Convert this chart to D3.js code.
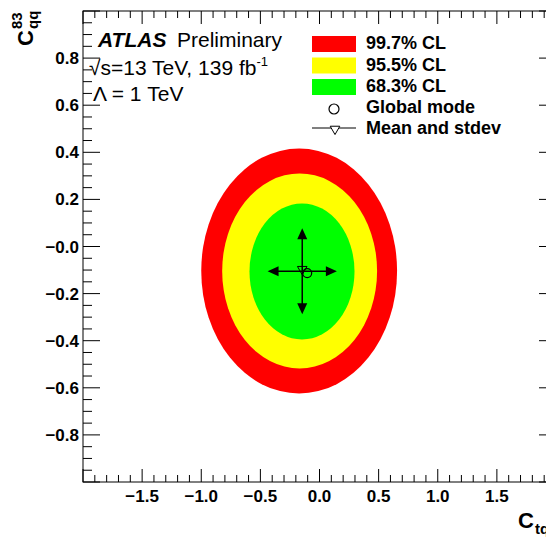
<!DOCTYPE html>
<meta charset="utf-8">
<style type="text/css">
    body { margin: 0; background: #fff; }
    text { font-family: "Liberation Sans", Arial, Helvetica, sans-serif; }
    .tick-label { font-size: 17px; font-weight: bold; }
    .legend-label { font-size: 18px; font-weight: bold; }
    .frame { fill: none; stroke: #000; stroke-width: 1; }
    .tick { stroke: #000; stroke-width: 1; }
</style>
<body>
</body>
<script src="https://cdn.jsdelivr.net/npm/d3@7"></script>
<script>

    // confidence level contours (ellipse centre + half-widths, in Wilson-coefficient units)
    var clLabels = ["99.7% CL", "95.5% CL", "68.3% CL"];
    var contourCx = [-0.172, -0.168, -0.148];
    var contourCy = [-0.104, -0.104, -0.106];
    var contourRx = [0.828, 0.655, 0.444];
    var contourRy = [0.520, 0.414, 0.289];

    // global mode and mean +- stdev
    var globalMode = [-0.104, -0.113];
    var meanValue = [-0.146, -0.105];
    var stdevValue = [0.293, 0.183];

    // tick labels
    var xTickValues = [-1.5, -1.0, -0.5, 0.0, 0.5, 1.0, 1.5];
    var xTickLabels = ["\u22121.5", "\u22121.0", "\u22120.5", "0.0", "0.5", "1.0", "1.5"];
    var yTickValues = [0.8, 0.6, 0.4, 0.2, 0.0, -0.2, -0.4, -0.6, -0.8];
    var yTickLabels = ["0.8", "0.6", "0.4", "0.2", "\u22120.0", "\u22120.2", "\u22120.4", "\u22120.6", "\u22120.8"];

    var clColors = ["#ff0000", "#ffff00", "#00ff00"];

    var W = 546, H = 539;
    var frame = {left: 83, right: 556, top: 11, bottom: 482};

    var x = d3.scaleLinear().domain([-2, 2]).range([frame.left, frame.right]);
    var y = d3.scaleLinear().domain([-1, 1]).range([frame.bottom, frame.top]);

    var svg = d3.select("body").append("svg")
        .attr("width", W)
        .attr("height", H);

    // contours, outermost first
    svg.selectAll(".contour")
        .data(clLabels)
        .enter().append("ellipse")
        .attr("class", "contour")
        .attr("cx", function(d, i) { return x(contourCx[i]); })
        .attr("cy", function(d, i) { return y(contourCy[i]); })
        .attr("rx", function(d, i) { return x(contourCx[i] + contourRx[i]) - x(contourCx[i]); })
        .attr("ry", function(d, i) { return y(contourCy[i]) - y(contourCy[i] + contourRy[i]); })
        .attr("fill", function(d, i) { return clColors[i]; });

    // frame
    svg.append("rect")
        .attr("class", "frame")
        .attr("x", frame.left)
        .attr("y", frame.top)
        .attr("width", frame.right - frame.left)
        .attr("height", frame.bottom - frame.top);

    // ticks on all four sides
    var xMinor = d3.range(-20, 21).map(function(i) { return i / 10; });
    var yMinor = d3.range(-20, 21).map(function(i) { return i / 20; });
    function isMajorX(v) { return Math.abs(v * 2 - Math.round(v * 2)) < 1e-6; }
    function isMajorY(v) { return Math.abs(v * 5 - Math.round(v * 5)) < 1e-6; }

    var ticks = svg.append("g");
    xMinor.forEach(function(v) {
        var len = isMajorX(v) ? 13 : 7;
        ticks.append("line").attr("class", "tick")
            .attr("x1", x(v)).attr("x2", x(v))
            .attr("y1", frame.bottom).attr("y2", frame.bottom - len);
        ticks.append("line").attr("class", "tick")
            .attr("x1", x(v)).attr("x2", x(v))
            .attr("y1", frame.top).attr("y2", frame.top + len);
    });
    yMinor.forEach(function(v) {
        var len = isMajorY(v) ? 17 : 9;
        ticks.append("line").attr("class", "tick")
            .attr("y1", y(v)).attr("y2", y(v))
            .attr("x1", frame.left).attr("x2", frame.left + len);
        ticks.append("line").attr("class", "tick")
            .attr("y1", y(v)).attr("y2", y(v))
            .attr("x1", frame.right).attr("x2", frame.right - len);
    });

    // tick labels
    svg.selectAll(".xlab")
        .data(xTickValues)
        .enter().append("text")
        .attr("class", "tick-label")
        .attr("x", function(d) { return x(d); })
        .attr("y", 502)
        .attr("text-anchor", "middle")
        .text(function(d, i) { return xTickLabels[i]; });

    svg.selectAll(".ylab")
        .data(yTickValues)
        .enter().append("text")
        .attr("class", "tick-label")
        .attr("x", frame.left - 4)
        .attr("y", function(d) { return y(d) + 6; })
        .attr("text-anchor", "end")
        .text(function(d, i) { return yTickLabels[i]; });

    // axis titles (x title runs off the right edge, as in the original)
    var xt = svg.append("g").attr("transform", "translate(518,528)");
    xt.append("text").attr("font-size", 22).attr("font-weight", "bold").text("C");
    xt.append("text").attr("x", 17).attr("y", 6).attr("font-size", 15).attr("font-weight", "bold").text("tq");

    var yt = svg.append("g").attr("transform", "translate(33,46) rotate(-90)");
    yt.append("text").attr("font-size", 22).attr("font-weight", "bold").text("C");
    yt.append("text").attr("x", 17).attr("y", 5).attr("font-size", 15).attr("font-weight", "bold").text("qq");
    yt.append("text").attr("x", 17).attr("y", -11).attr("font-size", 15).attr("font-weight", "bold").text("83");

    // ATLAS labels
    svg.append("text").attr("x", 98).attr("y", 47)
        .attr("font-size", 21).attr("font-weight", "bold").attr("font-style", "italic")
        .text("ATLAS");
    svg.append("text").attr("x", 177).attr("y", 47)
        .attr("font-size", 21).text("Preliminary");
    var l2 = svg.append("text").attr("x", 89).attr("y", 75).attr("font-size", 21);
    l2.append("tspan").text("\u221As=13 TeV, 139 fb");
    l2.append("tspan").attr("dy", -9).attr("font-size", 13).text("-1");
    svg.append("text").attr("x", 93).attr("y", 101)
        .attr("font-size", 21).text("\u039B = 1 TeV");

    // mean and stdev cross with arrows
    var cross = svg.append("g");
    var mx = x(meanValue[0]), my = y(meanValue[1]);
    var xl = x(meanValue[0] - stdevValue[0]), xr = x(meanValue[0] + stdevValue[0]);
    var yu = y(meanValue[1] + stdevValue[1]), yd = y(meanValue[1] - stdevValue[1]);
    cross.append("line").attr("x1", xl + 4).attr("x2", xr - 4).attr("y1", my).attr("y2", my)
        .attr("stroke", "#000").attr("stroke-width", 1.5);
    cross.append("line").attr("y1", yu + 4).attr("y2", yd - 4).attr("x1", mx).attr("x2", mx)
        .attr("stroke", "#000").attr("stroke-width", 1.5);
    var ah = 11, aw = 5;
    cross.append("path").attr("d", "M" + xl + "," + my + "L" + (xl + ah) + "," + (my - aw) + "L" + (xl + ah) + "," + (my + aw) + "Z");
    cross.append("path").attr("d", "M" + xr + "," + my + "L" + (xr - ah) + "," + (my - aw) + "L" + (xr - ah) + "," + (my + aw) + "Z");
    cross.append("path").attr("d", "M" + mx + "," + yu + "L" + (mx - aw) + "," + (yu + ah) + "L" + (mx + aw) + "," + (yu + ah) + "Z");
    cross.append("path").attr("d", "M" + mx + "," + yd + "L" + (mx - aw) + "," + (yd - ah) + "L" + (mx + aw) + "," + (yd - ah) + "Z");

    var tri = d3.symbol().type(d3.symbolTriangle).size(40);
    cross.append("path").attr("d", tri)
        .attr("transform", "translate(" + mx + "," + (my - 2) + ") rotate(180)")
        .attr("fill", "none").attr("stroke", "#000").attr("stroke-width", 1);
    svg.append("circle")
        .attr("cx", x(globalMode[0])).attr("cy", y(globalMode[1])).attr("r", 4.5)
        .attr("fill", "none").attr("stroke", "#000").attr("stroke-width", 1.2);

    // legend
    var lg = svg.append("g");
    clLabels.forEach(function(lab, i) {
        lg.append("rect").attr("x", 312).attr("y", 36 + i * 21.5)
            .attr("width", 44).attr("height", 16).attr("fill", clColors[i]);
        lg.append("text").attr("class", "legend-label")
            .attr("x", 366).attr("y", 49 + i * 21.5).text(lab);
    });
    lg.append("circle").attr("cx", 334).attr("cy", 109).attr("r", 5)
        .attr("fill", "none").attr("stroke", "#000").attr("stroke-width", 1.2);
    lg.append("text").attr("class", "legend-label").attr("x", 366).attr("y", 113).text("Global mode");
    lg.append("line").attr("x1", 312).attr("x2", 356).attr("y1", 128).attr("y2", 128)
        .attr("stroke", "#000");
    lg.append("path").attr("d", tri)
        .attr("transform", "translate(335,129) rotate(180)")
        .attr("fill", "#fff").attr("stroke", "#000");
    lg.append("text").attr("class", "legend-label").attr("x", 366).attr("y", 134).text("Mean and stdev");

</script>
